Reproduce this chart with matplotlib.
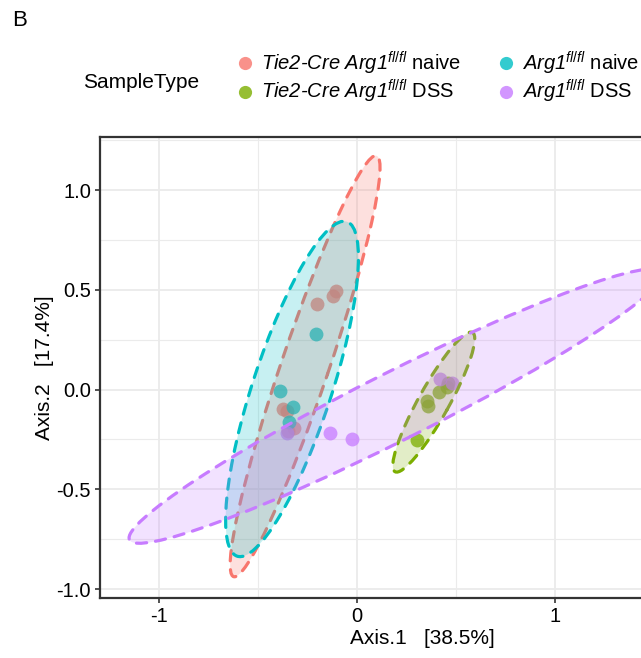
import numpy as np
import matplotlib
matplotlib.use("Agg")
import matplotlib.pyplot as plt
from matplotlib.patches import Ellipse
from matplotlib.lines import Line2D
from matplotlib.ticker import MultipleLocator

plt.rcParams['font.family'] = ['Liberation Sans', 'DejaVu Sans']
plt.rcParams['mathtext.fontset'] = 'custom'
plt.rcParams['mathtext.rm'] = 'Liberation Sans'
plt.rcParams['mathtext.it'] = 'Liberation Sans:italic'
plt.rcParams['mathtext.default'] = 'it'
plt.rcParams['axes.unicode_minus'] = False

# groups, in ggplot factor order
groups = ['Tie2-Cre naive', 'Tie2-Cre DSS', 'Arg1 naive', 'Arg1 DSS']
colors = ['#F8766D', '#7CAE00', '#00BFC4', '#C77CFF']
labels = [r'Tie2-Cre Arg1$^{fl/fl}$ $\mathrm{naive}$',
          r'Tie2-Cre Arg1$^{fl/fl}$ $\mathrm{DSS}$',
          r'Arg1$^{fl/fl}$ $\mathrm{naive}$',
          r'Arg1$^{fl/fl}$ $\mathrm{DSS}$']

# ordination coordinates (Axis.1, Axis.2) per group
tie2_naive_x = [-0.106, -0.123, -0.204, -0.372, -0.355, -0.347, -0.318]
tie2_naive_y = [0.494, 0.469, 0.427, -0.097, -0.109, -0.210, -0.192]
tie2_dss_x = [0.302, 0.352, 0.360, 0.416, 0.453, 0.461]
tie2_dss_y = [-0.251, -0.055, -0.084, -0.014, 0.014, 0.034]
arg1_naive_x = [-0.209, -0.389, -0.325, -0.343]
arg1_naive_y = [0.276, -0.005, -0.089, -0.162]
arg1_dss_x = [-0.354, -0.136, -0.025, 0.419, 0.478]
arg1_dss_y = [-0.216, -0.218, -0.248, 0.055, 0.034]

xs = [tie2_naive_x, tie2_dss_x, arg1_naive_x, arg1_dss_x]
ys = [tie2_naive_y, tie2_dss_y, arg1_naive_y, arg1_dss_y]

# 95% ellipses (center, full axes, angle)
ell_cx = [-0.262, 0.388, -0.328, 0.196]
ell_cy = [0.117, -0.063, 0.003, -0.083]
ell_w = [2.23, 0.80, 1.766, 3.006]
ell_h = [0.24, 0.154, 0.398, 0.34]
ell_ang = [71.1, 60.7, 71.7, 26.5]

fig = plt.figure(figsize=(6.41, 6.58), dpi=100)
W, H = 641, 658
ax = fig.add_axes([100 / W, (H - 598) / H, 645 / W, 461 / H])
ax.set_xlim(-1.298, 1.96)
ax.set_ylim(-1.045, 1.266)

for i in range(4):
    ax.scatter(xs[i], ys[i], s=100, color=colors[i], alpha=0.75,
               linewidths=0, zorder=2)

for i in range(4):
    e = Ellipse((ell_cx[i], ell_cy[i]), ell_w[i], ell_h[i], angle=ell_ang[i],
                facecolor=colors[i], alpha=0.22, edgecolor='none', zorder=3 + i)
    ax.add_patch(e)
    e2 = Ellipse((ell_cx[i], ell_cy[i]), ell_w[i], ell_h[i], angle=ell_ang[i],
                 facecolor='none', edgecolor=colors[i], lw=2.3,
                 linestyle=(0, (3.2, 2.8)), zorder=3 + i)
    e2.set_capstyle('round')
    ax.add_patch(e2)

ax.xaxis.set_major_locator(MultipleLocator(1))
ax.xaxis.set_minor_locator(MultipleLocator(0.5))
ax.yaxis.set_major_locator(MultipleLocator(0.5))
ax.yaxis.set_minor_locator(MultipleLocator(0.25))
ax.yaxis.set_major_formatter(lambda v, p: f'{v:.1f}')
ax.xaxis.set_major_formatter(lambda v, p: f'{v:.0f}')
ax.grid(which='major', color='#EBEBEB', lw=1.3, zorder=0)
ax.grid(which='minor', color='#EBEBEB', lw=0.8, zorder=0)
ax.set_axisbelow(True)
ax.tick_params(which='major', direction='out', length=3.5, width=1.2,
               color='#333333', labelsize=14.5, pad=3)
ax.tick_params(which='minor', length=0)
for s in ax.spines.values():
    s.set_color('#333333')
    s.set_linewidth(1.6)

ax.set_xlabel('Axis.1   [38.5%]', fontsize=15)
ax.set_ylabel('Axis.2   [17.4%]', fontsize=15)
ax.xaxis.set_label_coords(0.5, -0.068)
ax.yaxis.set_label_coords(-0.072, 0.5)

fig.text(12 / W, 1 - 20 / H, 'B', fontsize=16, va='center', ha='left')
fig.text(83 / W, 1 - 82 / H, 'SampleType', fontsize=15, va='center', ha='left')

handles = [Line2D([], [], marker='o', ls='none', color=c, markersize=9.5,
                  markeredgewidth=0, alpha=0.8) for c in colors]
fig.legend(handles, labels, ncol=2, loc='center left',
           bbox_to_anchor=(234.9 / W, 1 - 77.5 / H), frameon=False,
           handlelength=1.0, handletextpad=0.3,
           columnspacing=1.73, labelspacing=0.05, borderpad=0,
           borderaxespad=0, prop={'style': 'italic', 'size': 14.5})

fig.savefig('out.png', dpi=100)
